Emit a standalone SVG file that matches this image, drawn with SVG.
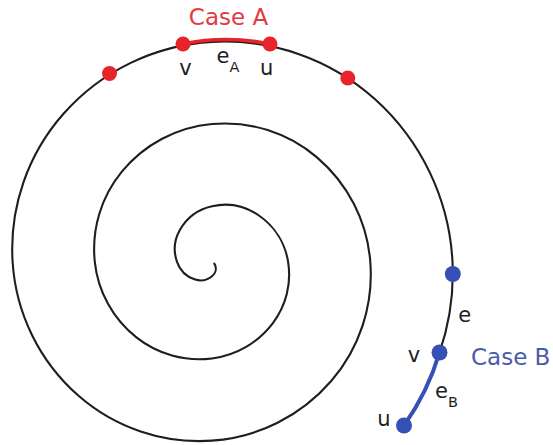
<svg xmlns="http://www.w3.org/2000/svg" width="553" height="445" viewBox="0 0 553 445">
<style>
.sp{fill:none;stroke:#1e1e1e;stroke-width:2.1}
.ra{fill:#e8232a}
.bl{fill:#3551b5}
.lbl{font-family:"DejaVu Sans",sans-serif;font-size:21px;fill:#1e1e1e}
.ea{fill:none;stroke:#e8232a;stroke-width:3.5;stroke-linecap:round}
.eb{fill:none;stroke:#3551b5;stroke-width:4;stroke-linecap:round}
.ttl{font-family:"DejaVu Sans",sans-serif;font-size:23px}
</style>
<rect width="553" height="445" fill="#fff"/>
<g id="spiral">
<path class="sp" d="M213.72,263.05 A6,6 0 0 1 214.95,264.75 A9.6,9.6 0 0 1 212,276.25 A18,18 0 0 1 194.52,279.28 A28.1,28.1 0 0 1 177,261.8 A38.5,38.5 0 0 1 179.99,229.79 A49,49 0 0 1 212,206.25 A59.3,59.3 0 0 1 258.55,215.25 A69.8,69.8 0 0 1 288.1,261.8 A80.2,80.2 0 0 1 273.08,322.88 A90.6,90.6 0 0 1 212,358.45 A101,101 0 0 1 136.39,337.41 A111.3,111.3 0 0 1 94.8,261.8 A121.6,121.6 0 0 1 121.86,171.66 A132,132 0 0 1 212,124.05 A142.3,142.3 0 0 1 316.67,157.13 A152.6,152.6 0 0 1 370.3,261.8 A162.9,162.9 0 0 1 331.2,381 A173.2,173.2 0 0 1 212,440.65 A183.5,183.5 0 0 1 78.27,395.53 A193.9,193.9 0 0 1 12.6,261.8 A204.1,204.1 0 0 1 63.74,113.54 A214.4,214.4 0 0 1 212,41.85 A224.7,224.7 0 0 1 374.79,99.01 A235,235 0 0 1 452.5,261.8 A242.6,242.6 0 0 1 439.5,352.5"/>
</g>
<g id="connectors">
<path id="eA" class="ea" d="M183,44 A220,220 0 0 1 270,44"/>
<path id="eB" class="eb" d="M439.5,352.5 A248,248 0 0 1 404,425.5"/>
</g>
<g id="caseA-title"><text class="ttl" x="228.5" y="25" text-anchor="middle" fill="#e23a40">Case A</text></g>
<g id="nodeA-left"><circle class="ra" cx="109.5" cy="73.5" r="7.5"/></g>
<g id="nodeA-v"><circle class="ra" cx="183" cy="44" r="7.5"/><text class="lbl" x="185.5" y="75" text-anchor="middle">v</text></g>
<g id="nodeA-u"><circle class="ra" cx="270" cy="44" r="7.5"/><text class="lbl" x="266.7" y="75" text-anchor="middle">u</text></g>
<g id="nodeA-right"><circle class="ra" cx="347.8" cy="78" r="7.5"/></g>
<g id="labelA"><text class="lbl" x="216.5" y="63.3">e<tspan font-size="14.5" dy="8.4">A</tspan></text></g>
<g id="nodeB-top"><circle class="bl" cx="452.8" cy="274" r="8"/></g>
<g id="labelE"><text class="lbl" x="458.3" y="321.7">e</text></g>
<g id="nodeB-v"><circle class="bl" cx="439.5" cy="352.5" r="8"/><text class="lbl" x="414" y="361.7" text-anchor="middle">v</text></g>
<g id="caseB-title"><text class="ttl" x="471" y="365" fill="#4a5bab">Case B</text></g>
<g id="labelB"><text class="lbl" x="435" y="398">e<tspan font-size="14.5" dy="8.5">B</tspan></text></g>
<g id="nodeB-u"><circle class="bl" cx="404" cy="425.5" r="8"/><text class="lbl" x="384" y="426" text-anchor="middle">u</text></g>
</svg>
